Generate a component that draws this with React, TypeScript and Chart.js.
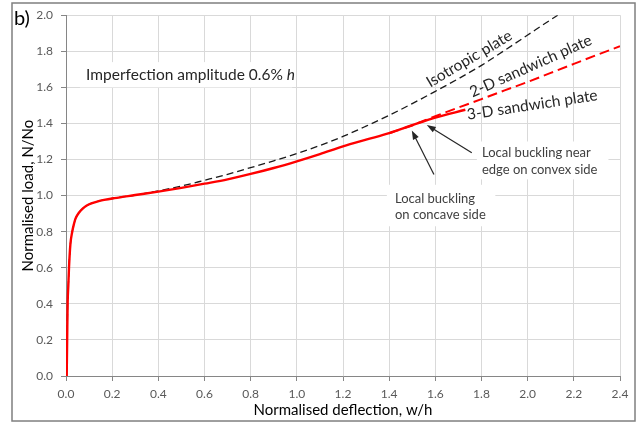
import React, { useEffect, useRef } from "react";
import { Chart, registerables } from "chart.js";

Chart.register(...registerables);

// 3-D sandwich plate (solid red)
const X_3D = [0.003, 0.005, 0.007, 0.01, 0.013, 0.019, 0.027, 0.035, 0.042, 0.056, 0.07, 0.09, 0.11, 0.135, 0.165, 0.21, 0.3, 0.4, 0.5, 0.6, 0.7, 0.8, 0.9, 1.0, 1.1, 1.2, 1.3, 1.4, 1.5, 1.6, 1.73];
const Y_3D = [0.0, 0.2, 0.4, 0.5, 0.6, 0.73, 0.8, 0.845, 0.875, 0.905, 0.925, 0.945, 0.957, 0.967, 0.976, 0.986, 1.003, 1.022, 1.043, 1.066, 1.09, 1.12, 1.153, 1.19, 1.23, 1.273, 1.31, 1.346, 1.39, 1.432, 1.476];

// 2-D sandwich plate (dashed red)
const X_2D = [1.4, 1.5, 1.6, 1.7, 1.8, 1.9, 2.0, 2.1, 2.2, 2.3, 2.4];
const Y_2D = [1.346, 1.39, 1.44, 1.488, 1.535, 1.583, 1.63, 1.68, 1.73, 1.78, 1.828];

// Isotropic plate (dashed black)
const X_ISO = [0.003, 0.005, 0.007, 0.01, 0.013, 0.019, 0.027, 0.035, 0.042, 0.056, 0.07, 0.09, 0.11, 0.135, 0.165, 0.21, 0.3, 0.4, 0.5, 0.6, 0.7, 0.8, 0.9, 1.0, 1.1, 1.2, 1.3, 1.4, 1.5, 1.6, 1.7, 1.8, 1.9, 2.0, 2.1, 2.13];
const Y_ISO = [0.0, 0.2, 0.4, 0.5, 0.6, 0.73, 0.8, 0.845, 0.875, 0.905, 0.925, 0.945, 0.957, 0.967, 0.976, 0.986, 1.003, 1.026, 1.053, 1.085, 1.118, 1.155, 1.193, 1.233, 1.278, 1.328, 1.385, 1.445, 1.51, 1.578, 1.648, 1.722, 1.805, 1.89, 1.975, 2.0];

const X_TICKS = [0, 0.2, 0.4, 0.6, 0.8, 1.0, 1.2, 1.4, 1.6, 1.8, 2.0, 2.2, 2.4];
const Y_TICKS = [0, 0.2, 0.4, 0.6, 0.8, 1.0, 1.2, 1.4, 1.6, 1.8, 2.0];

const FONT = "Lato, 'Open Sans', sans-serif";

const pts = (xs: number[], ys: number[]) => xs.map((x, i) => ({ x, y: ys[i] }));

const annotPlugin = {
  id: "annot",
  beforeDatasetsDraw(chart: any) {
    const { ctx, scales } = chart;
    const xs = scales.x, ys = scales.y;
    ctx.save();
    ctx.fillStyle = "#ffffff";
    const box = (x0: number, y0: number, x1: number, y1: number) => {
      const a = xs.getPixelForValue(x0), b = ys.getPixelForValue(y0);
      const c = xs.getPixelForValue(x1), d = ys.getPixelForValue(y1);
      ctx.fillRect(a, b, c - a, d - b);
    };
    box(0.06, 1.74, 0.98, 1.6);
    box(1.78, 1.3, 2.35, 1.09);
    box(1.39, 1.06, 1.86, 0.83);
    ctx.restore();
  },
  afterDatasetsDraw(chart: any) {
    const { ctx, scales } = chart;
    const xs = scales.x, ys = scales.y;
    const px = (v: number) => xs.getPixelForValue(v);
    const py = (v: number) => ys.getPixelForValue(v);
    ctx.save();
    ctx.textBaseline = "middle";
    ctx.textAlign = "left";
    ctx.fillStyle = "#262626";
    ctx.font = `15.5px ${FONT}`;
    const t1 = "Imperfection amplitude 0.6% ";
    ctx.fillText(t1, px(0.087), py(1.666));
    const w1 = ctx.measureText(t1).width;
    ctx.font = `italic 15.5px ${FONT}`;
    ctx.fillText("h", px(0.087) + w1, py(1.666));

    ctx.fillStyle = "#404040";
    ctx.font = `13px ${FONT}`;
    ctx.fillText("Local buckling near", px(1.802), py(1.238));
    ctx.fillText("edge on convex side", px(1.802), py(1.145));
    ctx.fillText("Local buckling", px(1.425), py(0.982));
    ctx.fillText("on concave side", px(1.425), py(0.894));

    const rot = (txt: string, x: number, y: number, deg: number) => {
      ctx.save();
      ctx.translate(px(x), py(y));
      ctx.rotate((deg * Math.PI) / 180);
      ctx.textAlign = "center";
      ctx.fillStyle = "#262626";
      ctx.font = `15.5px ${FONT}`;
      ctx.fillText(txt, 0, 0);
      ctx.restore();
    };
    rot("Isotropic plate", 1.747, 1.758, -30.6);
    rot("2-D sandwich plate", 2.013, 1.718, -24);
    rot("3-D sandwich plate", 2.02, 1.502, -8.6);

    const arrow = (x0: number, y0: number, x1: number, y1: number) => {
      const a = px(x0), b = py(y0), c = px(x1), d = py(y1);
      const ang = Math.atan2(d - b, c - a);
      const L = 9, W = 3.2;
      ctx.strokeStyle = "#262626";
      ctx.fillStyle = "#262626";
      ctx.lineWidth = 1.2;
      ctx.beginPath();
      ctx.moveTo(a, b);
      ctx.lineTo(c - Math.cos(ang) * L * 0.8, d - Math.sin(ang) * L * 0.8);
      ctx.stroke();
      ctx.beginPath();
      ctx.moveTo(c, d);
      ctx.lineTo(c - L * Math.cos(ang) + W * Math.sin(ang), d - L * Math.sin(ang) - W * Math.cos(ang));
      ctx.lineTo(c - L * Math.cos(ang) - W * Math.sin(ang), d - L * Math.sin(ang) + W * Math.cos(ang));
      ctx.closePath();
      ctx.fill();
    };
    arrow(1.758, 1.238, 1.563, 1.392);
    arrow(1.594, 1.117, 1.498, 1.361);
    ctx.restore();
  },
  afterDraw(chart: any) {
    const { ctx } = chart;
    ctx.save();
    ctx.strokeStyle = "#7f7f7f";
    ctx.lineWidth = 1.5;
    ctx.strokeRect(12, 3, 623, 418);
    ctx.fillStyle = "#000000";
    ctx.font = `20px ${FONT}`;
    ctx.textBaseline = "middle";
    ctx.textAlign = "left";
    ctx.fillText("b)", 14, 19);
    ctx.restore();
  },
};

export default function App() {
  const ref = useRef<HTMLCanvasElement | null>(null);
  useEffect(() => {
    if (!ref.current) return;
    const chart = new Chart(ref.current, {
      type: "scatter",
      data: {
        datasets: [
          {
            label: "3-D sandwich plate",
            data: pts(X_3D, Y_3D),
            showLine: true,
            borderColor: "#ff0000",
            borderWidth: 2.4,
            pointRadius: 0,
            cubicInterpolationMode: "monotone",
          },
          {
            label: "2-D sandwich plate",
            data: pts(X_2D, Y_2D),
            showLine: true,
            borderColor: "#ff0000",
            borderWidth: 2,
            borderDash: [10, 5],
            pointRadius: 0,
            cubicInterpolationMode: "monotone",
          },
          {
            label: "Isotropic plate",
            data: pts(X_ISO, Y_ISO),
            showLine: true,
            borderColor: "#1a1a1a",
            borderWidth: 1.3,
            borderDash: [7, 4],
            pointRadius: 0,
            cubicInterpolationMode: "monotone",
          },
        ],
      },
      options: {
        animation: false,
        responsive: false,
        devicePixelRatio: 1,
        layout: { padding: { left: 12, right: 20, top: 12, bottom: 4 } },
        plugins: { legend: { display: false }, tooltip: { enabled: false } },
        scales: {
          x: {
            type: "linear",
            min: 0,
            max: 2.4,
            afterBuildTicks: (s: any) => {
              s.ticks = X_TICKS.map((v) => ({ value: v }));
            },
            afterFit: (s: any) => {
              s.height = 45;
            },
            grid: { color: "#d9d9d9", tickColor: "#868686", tickLength: 5, lineWidth: 1 },
            border: { color: "#868686", width: 1 },
            ticks: {
              color: "#595959",
              font: { family: FONT, size: 12 },
              padding: 6,
              maxRotation: 0,
              callback: (v: any) => Number(v).toFixed(1),
            },
            title: {
              display: true,
              text: "Normalised deflection, w/h",
              color: "#000000",
              font: { family: FONT, size: 15 },
              padding: { top: 0, bottom: 2 },
            },
          },
          y: {
            type: "linear",
            min: 0,
            max: 2.0,
            afterBuildTicks: (s: any) => {
              s.ticks = Y_TICKS.map((v) => ({ value: v }));
            },
            afterFit: (s: any) => {
              s.width = 54;
            },
            grid: { color: "#d9d9d9", tickColor: "#868686", tickLength: 5, lineWidth: 1 },
            border: { color: "#868686", width: 1 },
            ticks: {
              color: "#595959",
              font: { family: FONT, size: 12 },
              padding: 8,
              callback: (v: any) => Number(v).toFixed(1),
            },
            title: {
              display: true,
              text: "Normalised load, N/No",
              color: "#000000",
              font: { family: FONT, size: 15 },
              padding: { top: 7, bottom: 0 },
            },
          },
        },
      },
      plugins: [annotPlugin],
    } as any);
    return () => chart.destroy();
  }, []);
  return (
    <div style={{ position: "absolute", left: 0, top: 0, width: 640, height: 425, background: "#fff" }}>
      <canvas ref={ref} width={640} height={425} style={{ width: 640, height: 425, display: "block" }} />
    </div>
  );
}
